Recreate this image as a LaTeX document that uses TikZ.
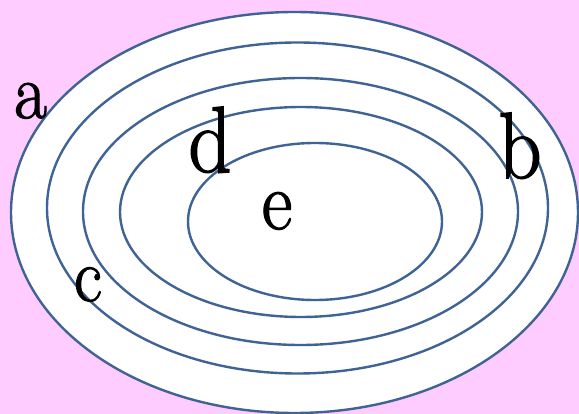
\documentclass[tikz,border=0pt]{standalone}
\usepackage{fontspec}
\newfontfamily\heavyserif{Latin Modern Roman}[FakeBold=1.6, BoldFont={Latin Modern Roman}, BoldFeatures={FakeBold=1.6}]
\definecolor{bgpink}{HTML}{FFCCFF}
\definecolor{ringblue}{HTML}{3F6394}
\newcommand{\narrowglyph}[2]{\fontsize{#1}{#1}\heavyserif\bfseries\scalebox{0.9}[1]{#2}}
\tikzset{
  ring/.style={draw=ringblue, line width=2.4pt, fill=white},
  letter/.style={inner sep=0pt, anchor=base, text=black}
}
\begin{document}
\begin{tikzpicture}[x=1pt,y=-1pt]
\fill[bgpink] (0,0) rectangle (579,414);
\useasboundingbox (0,0) rectangle (579,414);
\draw[ring] (294.5,212.5) ellipse [x radius=283.5, y radius=200.5];
\draw[ring] (297.5,208) ellipse [x radius=250.5, y radius=165.5];
\draw[ring] (300.5,211.5) ellipse [x radius=217.5, y radius=133.5];
\draw[ring] (301,212) ellipse [x radius=181, y radius=105];
\draw[ring] (315,221.5) ellipse [x radius=127, y radius=78.5];
\node[letter] (a) at (30.5,118) {\narrowglyph{79}{a}};
\node[letter] (b) at (520,178) {\narrowglyph{94}{b}};
\node[letter] (c) at (88,301) {\narrowglyph{76}{c}};
\node[letter] (d) at (210,172) {\narrowglyph{94}{d}};
\node[letter] (e) at (277,229) {\narrowglyph{83}{e}};
\end{tikzpicture}
\end{document}
